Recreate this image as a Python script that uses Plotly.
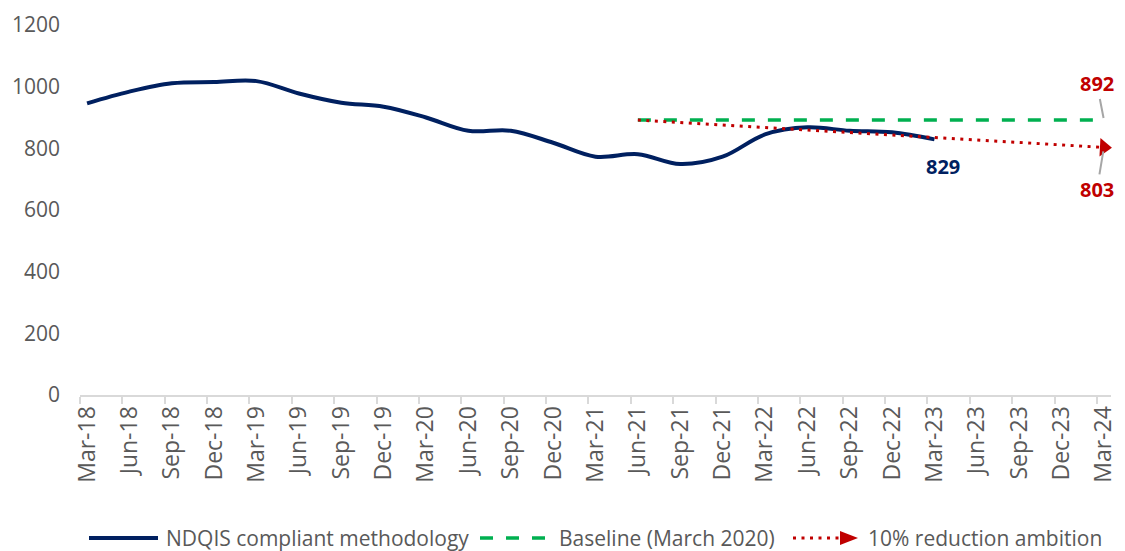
import plotly.graph_objects as go

# ---- data ----
quarter_labels = ["Mar-18", "Jun-18", "Sep-18", "Dec-18", "Mar-19", "Jun-19", "Sep-19", "Dec-19",
                  "Mar-20", "Jun-20", "Sep-20", "Dec-20", "Mar-21", "Jun-21", "Sep-21", "Dec-21",
                  "Mar-22", "Jun-22", "Sep-22", "Dec-22", "Mar-23", "Jun-23", "Sep-23", "Dec-23",
                  "Mar-24"]
ndqis_values = [946, 984, 1011, 1015, 1018, 978, 948, 935, 900, 857, 857, 818, 773, 781,
                749, 773, 845, 868, 857, 852, 829]
baseline_start = "Jun-21"
baseline_value = 892
target_end = "Mar-24"
target_value = 803

series_names = ["NDQIS compliant methodology", "Baseline (March 2020)", "10% reduction ambition"]

# ---- derived ----
qidx = list(range(len(quarter_labels)))
x_main = qidx[:len(ndqis_values)]
i0 = quarter_labels.index(baseline_start)
i1 = quarter_labels.index(target_end)
x_base = qidx[i0:i1 + 1]
y_base = [baseline_value] * len(x_base)

NAVY = "#002060"
GREEN = "#00B050"
RED = "#C00000"
GREY = "#595959"
FONT = "Open Sans"

fig = go.Figure()
fig.add_trace(go.Scatter(x=x_main, y=ndqis_values, mode="lines", name=series_names[0],
                         line=dict(color=NAVY, width=4, shape="spline", smoothing=1.0),
                         showlegend=False))
fig.add_trace(go.Scatter(x=x_base, y=y_base, mode="lines", name=series_names[1],
                         line=dict(color=GREEN, width=3.5, dash="13px,13px"),
                         showlegend=False))
fig.add_trace(go.Scatter(x=[i0, i1], y=[baseline_value, target_value], mode="lines",
                         name=series_names[2],
                         line=dict(color=RED, width=3, dash="3px,5.5px"),
                         showlegend=False))
# arrow head at the end of the ambition line
fig.add_trace(go.Scatter(x=[i1], y=[target_value], mode="markers", cliponaxis=False,
                         marker=dict(symbol="triangle-right", size=16, color=RED, angle=3,
                                     line=dict(width=0)),
                         showlegend=False, hoverinfo="skip"))

# data labels
fig.add_annotation(x=x_main[-1], y=ndqis_values[-1], text=f"<b>{ndqis_values[-1]}</b>",
                   showarrow=False, xshift=9, yshift=-27,
                   font=dict(family=FONT, size=20, color=NAVY))
fig.add_annotation(x=i1, y=baseline_value, text=f"<b>{baseline_value}</b>",
                   showarrow=True, ax=-7, ay=-36, arrowhead=0, arrowwidth=2,
                   arrowcolor="#A6A6A6", standoff=2,
                   font=dict(family=FONT, size=20, color=RED))
fig.add_annotation(x=i1, y=target_value, text=f"<b>{target_value}</b>",
                   showarrow=True, ax=-7, ay=42, arrowhead=0, arrowwidth=2,
                   arrowcolor="#A6A6A6", standoff=4,
                   font=dict(family=FONT, size=20, color=RED))

# manual legend (paper coordinates; page pixels -> paper)
PLOT_W = 1031.0
PLOT_H = 370.0

def px2x(px):
    return (px - 80) / PLOT_W

def py2y(py):
    return (395 - py) / PLOT_H

ly = py2y(538)
fig.add_shape(type="line", xref="paper", yref="paper", x0=px2x(89), x1=px2x(158), y0=ly, y1=ly,
              line=dict(color=NAVY, width=4))
fig.add_shape(type="line", xref="paper", yref="paper", x0=px2x(480), x1=px2x(550), y0=ly, y1=ly,
              line=dict(color=GREEN, width=3.5, dash="13px,13px"))
fig.add_shape(type="line", xref="paper", yref="paper", x0=px2x(793), x1=px2x(841), y0=ly, y1=ly,
              line=dict(color=RED, width=3, dash="3px,5.5px"))
fig.add_shape(type="path", xref="paper", yref="paper",
              path=f"M {px2x(840)},{py2y(531)} L {px2x(858)},{ly} L {px2x(840)},{py2y(545)} Z",
              fillcolor=RED, line=dict(color=RED, width=0))
for name, px in zip(series_names, [164, 557, 866]):
    fig.add_annotation(xref="paper", yref="paper", x=px2x(px), y=ly, text=name,
                       showarrow=False, xanchor="left", yanchor="middle", yshift=0,
                       font=dict(family=FONT, size=21, color=GREY))

fig.update_xaxes(range=[-1 / 6, qidx[-1] + 1 / 6], tickmode="array", tickvals=qidx,
                 ticktext=quarter_labels, tickangle=-90, ticks="", ticklabeloverflow="allow",
                 automargin=False,
                 tickfont=dict(family=FONT, size=23, color=GREY),
                 showgrid=False, zeroline=False, showline=True, linecolor="#D9D9D9", linewidth=2,
                 minor=dict(tick0=-1 / 6, dtick=1, ticks="outside", ticklen=7,
                            tickcolor="#D9D9D9", tickwidth=2, showgrid=False))
fig.update_yaxes(range=[0, 1200], tickvals=[0, 200, 400, 600, 800, 1000, 1200],
                 automargin=False,
                 tickfont=dict(family=FONT, size=21, color=GREY), showgrid=False,
                 zeroline=False, showline=False, ticks="", ticklabelstandoff=19)

# page body has an 8px margin; the visible figure area is 1109 px wide
fig.update_layout(width=1109, height=543, margin=dict(l=72, r=6, t=17, b=156, autoexpand=False),
                  plot_bgcolor="white", paper_bgcolor="white",
                  font=dict(family=FONT, color=GREY))

fig.write_html("out.html")
